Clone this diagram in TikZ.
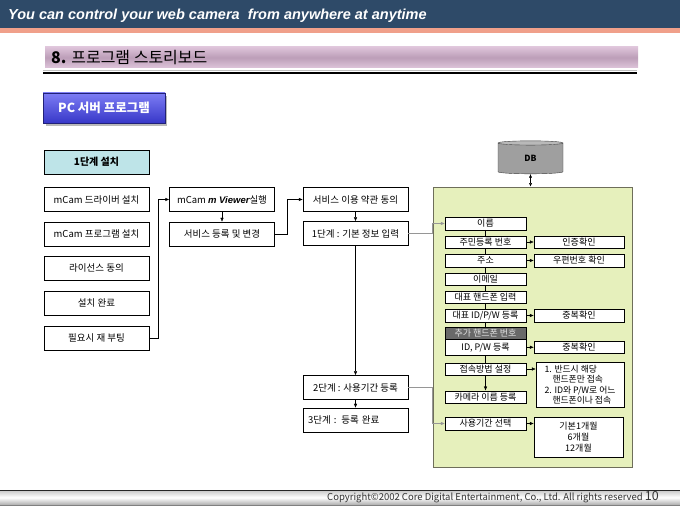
\documentclass[tikz,border=0pt]{standalone}
\usepackage{fontspec}
\setmainfont{Noto Sans CJK KR}
\newfontfamily\latinfont{Liberation Sans}
\usetikzlibrary{arrows.meta,positioning,shapes.geometric,calc}
\definecolor{headblue}{RGB}{46,74,104}
\definecolor{salmon}{RGB}{240,160,138}
\definecolor{ttlpink}{RGB}{222,196,218}
\definecolor{ttldark}{RGB}{188,158,184}
\definecolor{btnlight}{RGB}{125,125,245}
\definecolor{btndark}{RGB}{55,55,200}
\definecolor{stepcyan}{RGB}{190,228,232}
\definecolor{panelfill}{RGB}{230,240,188}
\definecolor{panelbd}{RGB}{110,110,90}
\definecolor{linkgray}{RGB}{150,150,150}
\definecolor{addgray}{RGB}{105,105,105}

\begin{document}
\begin{tikzpicture}[x=1pt,y=-1pt,
  box/.style={draw,fill=white,inner sep=0pt,minimum width=105pt,
    minimum height=24pt,font=\fontsize{9.5}{10}\selectfont},
  ibox/.style={draw,fill=white,inner sep=0pt,minimum width=81pt,
    minimum height=12.5pt,font=\fontsize{9}{10}\selectfont},
  rbox/.style={ibox,minimum width=90pt},
  arr/.style={-{Latex[length=4pt,width=3.5pt]}},
  link/.style={arr,linkgray}]
  \useasboundingbox (0,0) rectangle (680,510);
  \def\xa{96.5}
  \def\xb{222}
  \def\xc{355.5}
  \def\xn{485.5}
  \def\xr{579}
  % header
  \fill[headblue] (0,0) rectangle (680,28);
  \fill[salmon] (0,28) rectangle (680,33);
  \node[anchor=west,text=white,inner sep=0pt,
    font=\latinfont\bfseries\itshape\fontsize{14.5}{16}\selectfont]
    (slogan) at (8,16) {You can control your web camera\ \ from anywhere at anytime};
  % title
  \shade[top color=ttlpink,bottom color=ttlpink,middle color=ttldark]
    (45,47) rectangle (638,68);
  \node[anchor=west,inner sep=0pt,font=\fontsize{16}{18}\selectfont]
    (title) at (51,58) {\textbf{8.} 프로그램 스토리보드};
  \draw[gray!50,line width=1pt] (43,71) -- (637,71);
  \draw[line width=2pt] (43,73.5) -- (637,73.5);
  % button
  \fill[gray!55] (46,96) rectangle (167,126);
  \node[draw=btndark!60!black,top color=btnlight,bottom color=btndark,
    minimum width=122pt,minimum height=30pt,inner sep=0pt,text=white,
    font=\bfseries\fontsize{12.5}{14}\selectfont] (pcsrv) at (104,108) {PC 서버 프로그램};
  \node[box,fill=stepcyan,font=\bfseries\fontsize{10}{11}\selectfont]
    (inst) at (\xa,162) {1단계 설치};
  % left column
  \node[box] (drv) at (\xa,199.5) {mCam 드라이버 설치};
  \node[box] (prog) at (\xa,234) {mCam 프로그램 설치};
  \node[box] (lic) at (\xa,268) {라이선스 동의};
  \node[box] (fin) at (\xa,303) {설치 완료};
  \node[box] (boot) at (\xa,338) {필요시 재 부팅};
  % middle column
  \node[box] (viewer) at (\xb,199.5)
    {mCam {\latinfont\bfseries\itshape m Viewer}실행};
  \node[box] (svcreg) at (\xb,234) {서비스 등록 및 변경};
  % third column
  \node[box] (terms) at (\xc,199.5) {서비스 이용 약관 동의};
  \node[box] (basic) at (\xc,233.5) {1단계 : 기본 정보 입력};
  \node[box] (period) at (\xc,387.5) {2단계 : 사용기간 등록};
  \node[box,text width=95pt,align=left] (done) at (\xc,420) {3단계 : 등록 완료};
  % panel and DB
  \node[draw=panelbd,fill=panelfill,line width=0.8pt,minimum width=199pt,
    minimum height=280pt] (panel) at (532.5,327) {};
  \node[cylinder,shape border rotate=90,aspect=0.35,draw=gray!50!black,
    cylinder uses custom fill,cylinder body fill=gray!75,
    cylinder end fill=gray!55,minimum width=65pt,minimum height=33pt,
    inner sep=0pt,font=\bfseries\fontsize{8.5}{9}\selectfont] (db) at (530.5,158.5) {DB};
  % inner boxes
  \node[ibox] (name) at (\xn,223.5) {이름};
  \node[ibox] (rrn) at (\xn,242) {주민등록 번호};
  \node[ibox] (addr) at (\xn,260.5) {주소};
  \node[ibox] (mail) at (\xn,279) {이메일};
  \node[ibox] (phone) at (\xn,297) {대표 핸드폰 입력};
  \node[ibox] (mainid) at (\xn,315.5) {대표 ID/P/W 등록};
  \node[ibox,fill=addgray,text=gray!20] (addph) at (\xn,333) {추가 핸드폰 번호};
  \node[ibox,minimum height=16pt] (idpw) at (\xn,347.25) {ID, P/W 등록};
  \node[ibox] (conn) at (\xn,369) {접속방법 설정};
  \node[ibox] (cam) at (\xn,397) {카메라 이름 등록};
  \node[ibox] (usage) at (\xn,423.5) {사용기간 선택};
  % right boxes
  \node[rbox] (auth) at (\xr,242) {인증확인};
  \node[rbox] (zip) at (\xr,260.5) {우편번호 확인};
  \node[rbox] (dup) at (\xr,315.5) {중복확인};
  \node[rbox] (dupb) at (\xr,347.25) {중복확인};
  \node[rbox,minimum width=88pt,minimum height=45pt,align=left,
    font=\fontsize{8.8}{10.5}\selectfont] (connopt) at (580,384.5)
    {1. 반드시 해당\\\hspace{8pt}핸드폰만 접속\\2. ID와 P/W로 어느\\\hspace{8pt}핸드폰이나 접속};
  \node[rbox,minimum width=89pt,minimum height=40pt,align=center,
    font=\fontsize{9}{11}\selectfont] (months) at (578.5,437)
    {기본1개월\\6개월\\12개월};
  % connectors
  \draw[arr] (boot.east) -- ++(9,0) |- (viewer.west);
  \draw[arr] (viewer) -- (svcreg);
  \draw[arr] (svcreg.east) -- ++(12,0) |- (terms.west);
  \draw[arr] (terms) -- (basic);
  \draw[arr] (basic) -- (period);
  \draw[arr] (period) -- (done);
  \draw[link] (basic.east) -- ++(24,0) |- (name.west);
  \draw[link] (period.east) -- ++(24,0) |- (usage.west);
  \draw[{Latex[length=3.5pt,width=3pt]}-{Latex[length=3.5pt,width=3pt]}]
    (db.south) -- (db.south |- panel.north);
  \foreach \u/\v in {name/rrn,rrn/addr,addr/mail,mail/phone,phone/mainid,
    mainid/addph,idpw/conn}
    \draw (\u.south) -- (\v.north);
  \draw[arr] (conn) -- (cam);
  \draw[arr] (rrn) -- (auth);
  \draw[arr] (addr) -- (zip);
  \draw[arr] (mainid) -- (dup);
  \draw[arr] (idpw) -- (dupb);
  \draw[arr] (conn.east) -- (conn.east -| connopt.west);
  \draw[arr] (usage.east) -- (usage.east -| months.west);
  % footer
  \shade[top color=gray!45,bottom color=gray!65,middle color=white]
    (0,490) rectangle (680,505);
  \draw[gray!30!black] (0,490) -- (680,490);
  \draw[gray] (0,505) -- (680,505);
  \node[anchor=east,inner sep=0pt,text=black!80,font=\fontsize{9.5}{10}\selectfont]
    (copy) at (659,497.5)
    {Copyright©2002 Core Digital Entertainment, Co., Ltd. All rights reserved {\fontsize{12.5}{12}\selectfont 10}};
\end{tikzpicture}
\end{document}
